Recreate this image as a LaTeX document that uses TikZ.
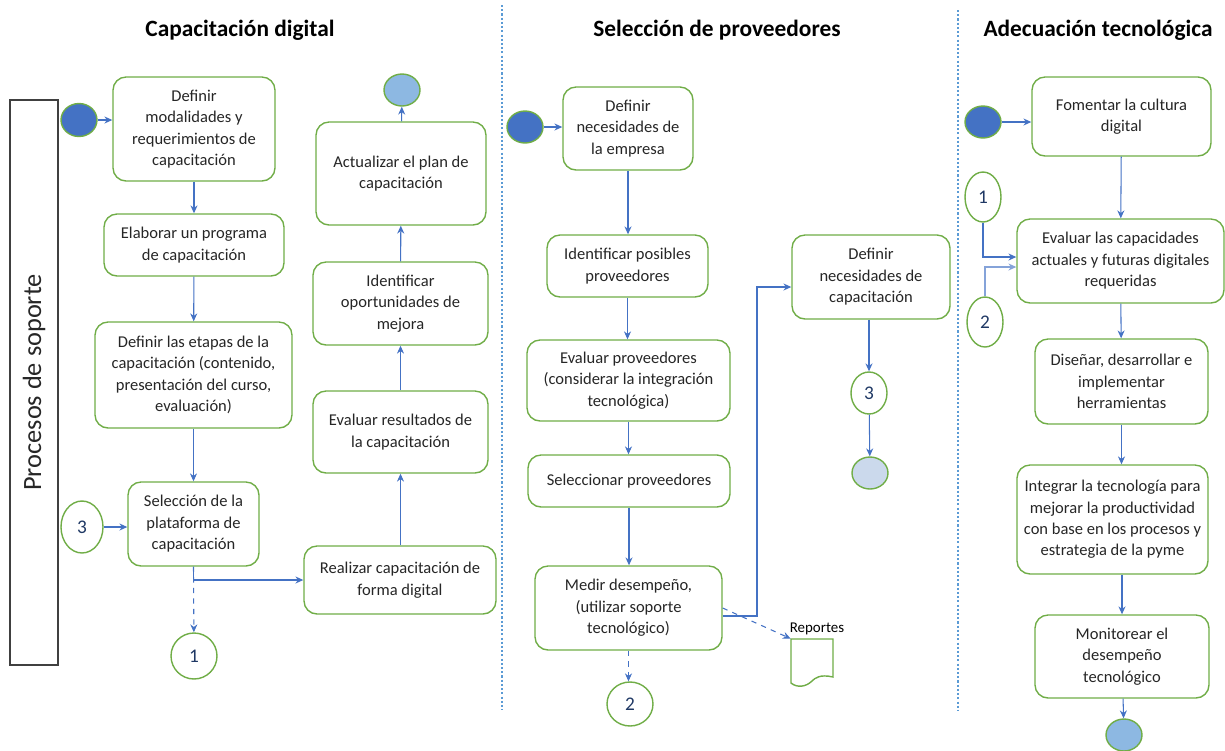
\documentclass[tikz,border=0pt]{standalone}
\usepackage{fontspec}
\setmainfont{Carlito}
\usetikzlibrary{arrows.meta, shapes.geometric}

\definecolor{boxgreen}{HTML}{70AD47}
\definecolor{flowblue}{HTML}{4472C4}
\definecolor{darkfill}{HTML}{4472C4}
\definecolor{lightfill}{HTML}{8DB8E2}
\definecolor{palefill}{HTML}{CBD9EC}
\definecolor{numblue}{HTML}{1F3864}
\definecolor{txtgray}{HTML}{262626}
\definecolor{sepblue}{HTML}{5B9BD5}

\begin{document}
\begin{tikzpicture}[x=0.02cm, y=-0.02cm, font=\fontsize{9.4}{12.2}\selectfont, text=txtgray]
\useasboundingbox (0,0) rectangle (1225,751);

% lanes
\draw [sepblue, line width=0.6pt, dash pattern=on 1.2pt off 1.2pt] (502,5) -- (502,710);
\draw [sepblue, line width=0.6pt, dash pattern=on 1.2pt off 1.2pt] (958,10) -- (958,710);

\begin{scope}[every node/.style={text=black, font=\fontsize{13.3}{16}\selectfont\bfseries}]
    \node (capdigital) at (240,30) {Capacitación digital};
    \node (selprov) at (717,30) {Selección de proveedores};
    \node (adectec) at (1098,30) {Adecuación tecnológica};
\end{scope}

\node (soporte) at (34,382.5) [rotate=90, draw=black!75, line width=0.7pt, minimum width=11.3cm, minimum height=0.96cm, text=txtgray, font=\fontsize{15}{18}\selectfont] {Procesos de soporte};

\begin{scope}[every node/.style={rectangle, rounded corners=0.26cm, draw=boxgreen, line width=0.8pt, fill=white, align=center, inner sep=2pt}]
    % capacitacion digital
    \node (modalidades) at (194,129) [minimum width=3.24cm, minimum height=2.08cm] {Definir\\modalidades y\\requerimientos de\\capacitación};
    \node (programa) at (194,245) [minimum width=3.60cm, minimum height=1.24cm] {Elaborar un programa\\de capacitación};
    \node (etapas) at (193.5,375) [minimum width=3.94cm, minimum height=2.12cm] {Definir las etapas de la\\capacitación (contenido,\\presentación del curso,\\evaluación)};
    \node (plataforma) at (193.5,524) [minimum width=2.62cm, minimum height=1.68cm] {Selección de la\\plataforma de\\capacitación};
    \node (realizar) at (400,580) [minimum width=3.84cm, minimum height=1.36cm] {Realizar capacitación de\\forma digital};
    \node (resultados) at (400.5,432) [minimum width=3.50cm, minimum height=1.64cm] {Evaluar resultados de\\la capacitación};
    \node (oportunidades) at (400.5,303.5) [minimum width=3.50cm, minimum height=1.66cm] {Identificar\\oportunidades de\\mejora};
    \node (actualizar) at (401,173.5) [minimum width=3.40cm, minimum height=2.06cm] {Actualizar el plan de\\capacitación};

    % seleccion de proveedores
    \node (necempresa) at (628,128.5) [minimum width=2.60cm, minimum height=1.66cm] {Definir\\necesidades de\\la empresa};
    \node (posibles) at (627.5,266) [minimum width=3.22cm, minimum height=1.24cm] {Identificar posibles\\proveedores};
    \node (evalprov) at (628.5,380.5) [minimum width=4.06cm, minimum height=1.62cm] {Evaluar proveedores\\(considerar la integración\\tecnológica)};
    \node (selecprov) at (629,481) [minimum width=4.04cm, minimum height=1.04cm] {Seleccionar proveedores};
    \node (medir) at (628.5,608) [minimum width=3.74cm, minimum height=1.68cm] {Medir desempeño,\\(utilizar soporte\\tecnológico)};
    \node (neccap) at (871,277) [minimum width=3.16cm, minimum height=1.68cm] {Definir\\necesidades de\\capacitación};

    % adecuacion tecnologica
    \node (cultura) at (1121.5,116.5) [minimum width=3.58cm, minimum height=1.58cm] {Fomentar la cultura\\digital};
    \node (capacidades) at (1120.5,261) [minimum width=4.14cm, minimum height=1.68cm] {Evaluar las capacidades\\actuales y futuras digitales\\requeridas};
    \node (herramientas) at (1121.5,381.5) [minimum width=3.46cm, minimum height=1.70cm] {Diseñar, desarrollar e\\implementar\\herramientas};
    \node (integrar) at (1112.5,519.5) [minimum width=3.82cm, minimum height=2.18cm] {Integrar la tecnología para\\mejorar la productividad\\con base en los procesos y\\estrategia de la pyme};
    \node (monitorear) at (1122,656.5) [minimum width=3.48cm, minimum height=1.66cm] {Monitorear el\\desempeño\\tecnológico};
\end{scope}

\begin{scope}[every node/.style={ellipse, draw=boxgreen, line width=0.8pt, inner sep=0pt, text=numblue, font=\fontsize{11}{13}\selectfont}]
    \node (inicioA) at (79,120) [fill=darkfill, minimum width=0.72cm, minimum height=0.66cm] {};
    \node (finA) at (402,90) [fill=lightfill, minimum width=0.72cm, minimum height=0.64cm] {};
    \node (tresA) at (82,527) [minimum width=0.84cm, minimum height=1.04cm] {3};
    \node (unoA) at (194,656) [minimum width=0.92cm, minimum height=0.92cm] {1};

    \node (inicioB) at (525,127) [fill=darkfill, minimum width=0.72cm, minimum height=0.64cm] {};
    \node (dosA) at (630,704) [minimum width=0.92cm, minimum height=0.88cm] {2};
    \node (tresB) at (869,393) [minimum width=0.72cm, minimum height=0.84cm] {3};
    \node (finB) at (870,473) [fill=palefill, minimum width=0.72cm, minimum height=0.64cm] {};

    \node (inicioC) at (983,122) [fill=darkfill, minimum width=0.72cm, minimum height=0.64cm] {};
    \node (unoB) at (983,197) [minimum width=0.72cm, minimum height=1.0cm] {1};
    \node (dosB) at (985,322) [minimum width=0.72cm, minimum height=1.0cm] {2};
    \node (finC) at (1124,735) [fill=lightfill, minimum width=0.72cm, minimum height=0.64cm] {};
\end{scope}

% documento
\node (reportes) at (812,662) [minimum width=0.84cm, minimum height=0.92cm, inner sep=0pt] {};
\draw [boxgreen, line width=0.8pt, fill=white] (791,639) -- (833,639) -- (833,677)
    .. controls (820,674) and (815,678) .. (812,681)
    .. controls (806,687) and (797,688) .. (791,683) -- cycle;
\node (reptext) at (817,629) [text=black, font=\fontsize{8.5}{10}\selectfont] {Reportes};

\begin{scope}[flowblue, line width=0.6pt, >={Stealth[length=4.5pt, width=4pt]},
              every edge/.style={draw}]
    \path [->] (inicioA) edge (inicioA -| modalidades.west);
    \path [->] (modalidades) edge (programa);
    \path [->] (programa) edge (etapas);
    \path [->] (etapas) edge (plataforma);
    \path [->] (tresA) edge (tresA -| plataforma.west);
    \draw [->] (plataforma.south) |- (realizar.west);
    \draw [->, dashed] (plataforma.south) -- (unoA);
    \path [->] (realizar.north -| resultados) edge (resultados);
    \path [->] (resultados) edge (oportunidades);
    \path [->] (oportunidades) edge (actualizar);
    \path [->] (actualizar) edge (finA);

    \path [->] (inicioB) edge (inicioB -| necempresa.west);
    \path [->] (necempresa) edge (necempresa |- posibles.north);
    \path [->] (posibles) edge (posibles |- evalprov.north);
    \path [->] (evalprov) edge (evalprov |- selecprov.north);
    \path [->] (selecprov) edge (selecprov |- medir.north);
    \coordinate (codo) at (757,287);
    \draw [->] ([yshift=-0.16cm]medir.east) -| (codo) -- (codo -| neccap.west);
    \draw [->, dashed] (medir.east) -- (reportes.north west);
    \draw [->, dashed] (medir.south) -- (medir.south |- dosA.north);
    \path [->] (neccap.south -| tresB) edge (tresB);
    \path [->] (tresB) edge (finB);

    \path [->] (inicioC) edge (inicioC -| cultura.west);
    \path [->] (cultura) edge (capacidades);
    \draw [->] (unoB.south) |- ([yshift=0.08cm]capacidades.west);
    \draw [->, flowblue!65] (dosB.north) |- ([yshift=-0.12cm]capacidades.west);
    \path [->] (capacidades) edge (herramientas);
    \path [->] (herramientas.south) edge (herramientas.south |- integrar.north);
    \path [->] (integrar.south -| monitorear) edge (monitorear);
    \path [->] (monitorear) edge (finC);
\end{scope}
\end{tikzpicture}
\end{document}
